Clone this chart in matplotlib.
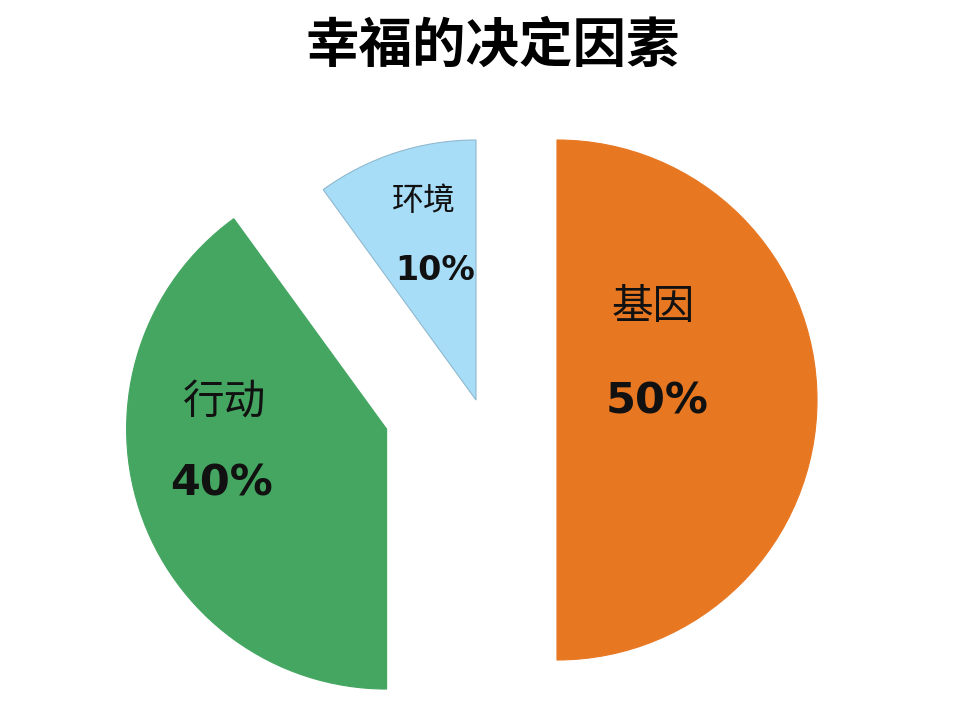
import matplotlib
matplotlib.use("Agg")
import matplotlib.pyplot as plt

# Data
categories = ["基因", "行动", "环境"]
values = [50, 40, 10]
pct_labels = ["50%", "40%", "10%"]
title = "幸福的决定因素"

# Style / layout
colors = ["#E87722", "#44A661", "#A8DDF8"]
edgecolors = ["#E87722", "#44A661", "#8FB9CF"]
explode = [81, 94, 0]          # data units (pixels)
radius = 260
center = (476, 720 - 400)
# label layout: (name_x, name_y, pct_x, pct_y, name_size, pct_size) in screen px
label_layout = [
    (653, 307, 657, 401, 30, 31),
    (225, 403, 221, 483, 30, 31),
    (424, 201, 435, 271, 23, 24),
]

fig = plt.figure(figsize=(9.6, 7.2), dpi=100)
fig.patch.set_facecolor("white")
ax = fig.add_axes([0, 0, 1, 1])

wedges, _ = ax.pie(values, colors=colors, explode=explode, radius=radius,
                   center=center, startangle=90, counterclock=False,
                   wedgeprops=dict(linewidth=0.8))
for w, ec in zip(wedges, edgecolors):
    w.set_edgecolor(ec)

ax.set_xlim(0, 960)
ax.set_ylim(0, 720)
ax.set_aspect("equal")
ax.axis("off")

for name, pct, (nx, ny, px, py, ns, ps) in zip(categories, pct_labels, label_layout):
    ax.text(nx, 720 - ny, name, ha="center", va="center", fontsize=ns,
            family=["Noto Sans CJK SC", "DejaVu Sans"], color="#111111")
    ax.text(px, 720 - py, pct, ha="center", va="center", fontsize=ps,
            family=["DejaVu Sans"], fontweight="bold", color="#111111")

ax.text(493, 720 - 46, title, ha="center", va="center", fontsize=38.5,
        family=["Noto Sans CJK SC", "DejaVu Sans"], fontweight="bold", color="black")

fig.savefig("out.png", dpi=100, facecolor="white")
